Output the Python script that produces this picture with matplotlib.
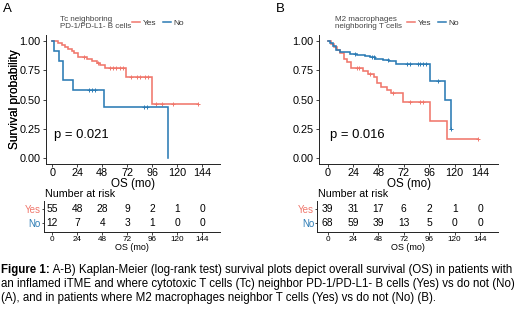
import numpy as np
import matplotlib
matplotlib.use("Agg")
import matplotlib.pyplot as plt
from matplotlib.lines import Line2D

plt.rcParams['font.family'] = ['Liberation Sans', 'DejaVu Sans']

W, H = 520, 309
RED = '#F0776C'
BLUE = '#2B7BB4'

# ---------------- data ----------------
x_ticks = [0, 24, 48, 72, 96, 120, 144]
y_ticks = [0.0, 0.25, 0.5, 0.75, 1.0]
y_ticklabels = ['0.00', '0.25', '0.50', '0.75', '1.00']
groups = ['Yes', 'No']

# Panel A
A_yes_t = [0, 5, 9, 12, 15, 19, 21, 25, 33, 38, 43, 46, 51, 71, 96]
A_yes_s = [1.0, 0.982, 0.964, 0.95, 0.935, 0.915, 0.895, 0.866, 0.845, 0.83, 0.815, 0.795, 0.77, 0.69, 0.46]
A_yes_cens = [30, 44, 55, 58, 61, 65, 68, 76, 81, 84, 89, 92, 100, 105, 116, 140]
A_yes_end = 140
A_no_t = [0, 2, 6, 10, 20, 50, 111]
A_no_s = [1.0, 0.917, 0.833, 0.667, 0.583, 0.438, 0.0]
A_no_cens = [35, 38, 41, 88, 91]
A_no_end = 111
A_risk_yes = [55, 48, 28, 9, 2, 1, 0]
A_risk_no = [12, 7, 4, 3, 1, 0, 0]
A_pval = 'p = 0.021'
A_legend_title = 'Tc neighboring\nPD-1/PD-L1- B cells'

# Panel B
B_yes_t = [0, 3, 6, 9, 12, 15, 18, 22, 33, 38, 44, 47, 50, 56, 60, 71, 97, 113]
B_yes_s = [1.0, 0.974, 0.949, 0.923, 0.897, 0.85, 0.82, 0.77, 0.745, 0.72, 0.69, 0.64, 0.61, 0.58, 0.56, 0.48, 0.32, 0.16]
B_yes_cens = [28, 30, 40, 62, 78, 87, 90, 142]
B_yes_end = 142
B_no_t = [0, 2, 5, 8, 12, 21, 28, 35, 40, 45, 52, 58, 65, 97, 111, 116.5]
B_no_s = [1.0, 0.985, 0.955, 0.925, 0.91, 0.89, 0.88, 0.87, 0.86, 0.85, 0.84, 0.83, 0.80, 0.66, 0.50, 0.25]
B_no_cens = [26, 42, 44, 57, 75, 78, 85, 87, 90, 93, 104, 116.5]
B_no_end = 116.5
B_risk_yes = [39, 31, 17, 6, 2, 1, 0]
B_risk_no = [68, 59, 39, 13, 5, 0, 0]
B_pval = 'p = 0.016'
B_legend_title = 'M2 macrophages\nneighboring T cells'

caption_bold = 'Figure 1:'
caption_lines = [
    ' A-B) Kaplan-Meier (log-rank test) survival plots depict overall survival (OS) in patients with',
    'an inflamed iTME and where cytotoxic T cells (Tc) neighbor PD-1/PD-L1- B cells (Yes) vs do not (No)',
    '(A), and in patients where M2 macrophages neighbor T cells (Yes) vs do not (No) (B).',
]

# ---------------- helpers ----------------
fig = plt.figure(figsize=(W / 100, H / 100), dpi=100)


def px_axes(x0, y0, x1, y1):
    return fig.add_axes([x0 / W, 1 - y1 / H, (x1 - x0) / W, (y1 - y0) / H])


def style_axes(ax):
    for s in ['top', 'right']:
        ax.spines[s].set_visible(False)
    for s in ['left', 'bottom']:
        ax.spines[s].set_linewidth(0.7)
        ax.spines[s].set_color('#222222')
    ax.tick_params(length=2.5, width=0.6, color='#222222', pad=1.5)


def km(ax, t, s, cens, end, color):
    tt = list(t) + [end]
    ss = list(s) + [s[-1]]
    ax.step(tt, ss, where='post', color=color, lw=1.15, solid_joinstyle='miter')
    t_arr = np.asarray(t)
    s_arr = np.asarray(s)
    cy = [s_arr[np.searchsorted(t_arr, c, side='right') - 1] for c in cens]
    ax.plot(cens, cy, ls='none', marker='+', ms=3.2, mew=0.7, color=color)


def panel(label, ax_x0, ax_x1, xlim, yes, no, pval, pval_x, leg_title, leg_x, key_x,
          risk_yes, risk_no):
    ax = px_axes(ax_x0, 35.2, ax_x1, 163.9)
    style_axes(ax)
    km(ax, *yes, RED)
    km(ax, *no, BLUE)
    ax.set_xlim(*xlim)
    ax.set_ylim(-0.05, 1.05)
    ax.set_xticks(x_ticks)
    ax.set_yticks(y_ticks)
    ax.set_yticklabels(y_ticklabels)
    ax.tick_params(labelsize=7.8, colors='#222222', labelcolor='black')
    ax.tick_params(axis='x', pad=0.8)
    ax.set_xlabel('OS (mo)', fontsize=8.4)
    ax.xaxis.set_label_coords(0.5, -(184 - 163.9) / (163.9 - 35.2), transform=ax.transAxes)
    ax.xaxis.label.set_va('center')
    ax.set_ylabel('Survival probability', fontsize=8.6)
    ax.yaxis.set_label_coords(-(ax_x0 - 15) / (ax_x1 - ax_x0), 0.5, transform=ax.transAxes)
    ax.yaxis.label.set_va('center')
    ax.text(pval_x, 0.20, pval, fontsize=9.4, ha='left', va='center')
    # panel label
    fig.text((ax_x0 - 43) / W, 1 - 9 / H, label, fontsize=9.5, ha='left', va='center')
    # legend
    fig.text(leg_x / W, 1 - 23 / H, leg_title, fontsize=5.8, ha='left', va='center',
             color='#444444', linespacing=1.15)
    handles = [Line2D([], [], color=RED, lw=1.1), Line2D([], [], color=BLUE, lw=1.1)]
    fig.legend(handles, groups, loc='center left', bbox_to_anchor=(key_x / W, 1 - 23 / H),
               ncol=2, frameon=False, fontsize=6.0, handlelength=1.0, handletextpad=0.3,
               columnspacing=0.8, borderpad=0, borderaxespad=0, labelcolor='#333333')

    # risk table
    fig.text((ax_x0 - 1) / W, 1 - 194 / H, 'Number at risk', fontsize=7.7, ha='left', va='center')
    tab = px_axes(ax_x0 - 2, 201, ax_x1, 231.5)
    style_axes(tab)
    tab.set_xlim(xlim[0] - 2 / ((ax_x1 - ax_x0) / (xlim[1] - xlim[0])), xlim[1])
    tab.set_ylim(1 + (231.5 - 222.8) / 13.8, -(209 - 201) / 13.8)
    for i, row in enumerate([risk_yes, risk_no]):
        for xt, n in zip(x_ticks, row):
            tab.text(xt, i, str(n), fontsize=7.4, ha='center', va='center')
    tab.set_yticks(range(len(groups)))
    tab.set_yticklabels(groups, fontsize=7.0)
    tab.tick_params(axis='y', length=1.5, pad=0.8)
    for tl, c in zip(tab.get_yticklabels(), [RED, BLUE]):
        tl.set_color(c)
    tab.set_xticks(x_ticks)
    tab.tick_params(axis='x', labelsize=5.9, pad=1)
    tab.set_xlabel('OS (mo)', fontsize=6.5, labelpad=-0.5)
    return ax


panel('A', 46, 220, (-6.05, 161),
      (A_yes_t, A_yes_s, A_yes_cens, A_yes_end), (A_no_t, A_no_s, A_no_cens, A_no_end),
      A_pval, 2, A_legend_title, 60, 132, A_risk_yes, A_risk_no)
panel('B', 319.3, 498, (-7.9, 161),
      (B_yes_t, B_yes_s, B_yes_cens, B_yes_end), (B_no_t, B_no_s, B_no_cens, B_no_end),
      B_pval, 2, B_legend_title, 335, 407, B_risk_yes, B_risk_no)

# caption
cap_size = 8.3
t0 = fig.text(1 / W, 1 - 270.5 / H, caption_bold, fontsize=cap_size, fontweight='bold',
              ha='left', va='center')
fig.canvas.draw()
bb = t0.get_window_extent()
fig.text(bb.x1 / W, 1 - 270.5 / H, caption_lines[0], fontsize=cap_size, ha='left', va='center')
fig.text(1 / W, 1 - 284 / H, caption_lines[1], fontsize=cap_size, ha='left', va='center')
fig.text(1 / W, 1 - 297.5 / H, caption_lines[2], fontsize=cap_size, ha='left', va='center')

fig.savefig('out.png', dpi=100)
